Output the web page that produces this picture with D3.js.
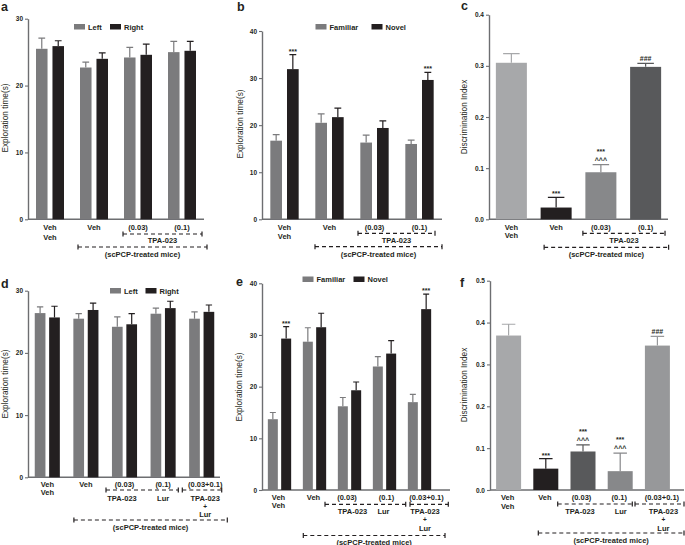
<!DOCTYPE html>
<html>
<head>
<meta charset="utf-8">
<script src="https://cdn.jsdelivr.net/npm/d3@7"></script>
<style>
  body { margin: 0; background: #fff; }
  svg { display: block; }
</style>
</head>
<body>
<div id="chart"></div>
<script>
// ---- data ----
var groupsABC = [["Veh", "Veh"], ["Veh"], ["(0.03)"], ["(0.1)"]];
var groupsDEF = [["Veh", "Veh"], ["Veh"], ["(0.03)"], ["(0.1)"], ["(0.03+0.1)"]];

var aLeft = [25.5, 22.7, 24.2, 25.0];
var aLeftErr = [1.6, 0.8, 1.5, 1.6];
var aRight = [25.9, 24.0, 24.6, 25.2];
var aRightErr = [0.8, 0.9, 1.6, 1.4];

var bFamiliar = [16.7, 20.5, 16.3, 16.0];
var bFamiliarErr = [1.3, 1.9, 1.6, 0.8];
var bNovel = [31.9, 21.7, 19.4, 29.6];
var bNovelErr = [3.1, 1.9, 1.5, 1.6];
var bNovelMarks = [["***"], null, null, ["***"]];

var cIndex = [0.306, 0.023, 0.092, 0.298];
var cIndexErr = [0.018, 0.020, 0.015, 0.007];
var cMarks = [null, ["***"], ["***", "^^^"], ["###"]];

var dLeft = [26.4, 25.5, 24.2, 26.3, 25.5];
var dLeftErr = [1.0, 0.8, 1.6, 0.9, 1.1];
var dRight = [25.7, 26.9, 24.6, 27.2, 26.6];
var dRightErr = [1.8, 1.1, 1.7, 1.1, 1.1];

var eFamiliar = [13.7, 28.7, 16.2, 23.9, 17.0];
var eFamiliarErr = [1.3, 2.7, 1.7, 1.9, 1.5];
var eNovel = [29.3, 31.5, 19.3, 26.4, 35.0];
var eNovelErr = [2.3, 2.7, 1.6, 2.5, 2.9];
var eNovelMarks = [["***"], null, null, null, ["***"]];

var fIndex = [0.369, 0.051, 0.092, 0.045, 0.345];
var fIndexErr = [0.027, 0.024, 0.016, 0.043, 0.022];
var fMarks = [null, ["***"], ["***", "^^^"], ["***", "^^^"], ["###"]];

var ticks30 = [0, 10, 20, 30];
var ticks40 = [0, 10, 20, 30, 40];
var ticksC = [0, 0.1, 0.2, 0.3, 0.4];
var ticksF = [0, 0.1, 0.2, 0.3, 0.4, 0.5];

var comboLabel = ["TPA-023", "+", "Lur"];

// ---- styles ----
var FONT = "'Liberation Sans', Arial, sans-serif";
var INK = "#231f20";
var AXIS = "#6d6e71";
var GREY = "#7b7b7d";
var BLACK = "#231f20";
var cColors = ["#a7a8aa", "#231f20", "#87888a", "#58595b"];
var fColors = ["#a7a8aa", "#231f20", "#58595b", "#87888a", "#97989a"];

var svg = d3.select("#chart").append("svg")
    .attr("width", 685).attr("height", 545)
    .attr("font-family", FONT);
svg.append("rect").attr("width", 685).attr("height", 545).attr("fill", "#fff");

function txt(g, x, y, s, size, weight, anchor) {
    return g.append("text").attr("x", x).attr("y", y)
        .attr("font-size", size).attr("font-weight", weight || "bold")
        .attr("text-anchor", anchor || "middle").attr("fill", INK).text(s);
}

function bracket(g, x1, x2, y) {
    g.append("line").attr("x1", x1).attr("x2", x2).attr("y1", y).attr("y2", y)
        .attr("stroke", INK).attr("stroke-width", 1.2).attr("stroke-dasharray", "4,3");
    [x1, x2].forEach(function(xx) {
        g.append("line").attr("x1", xx).attr("x2", xx).attr("y1", y - 2.5).attr("y2", y + 2.5)
            .attr("stroke", INK).attr("stroke-width", 1.2);
    });
}

function drawPanel(p) {
    var g = svg.append("g");
    var x = d3.scaleBand().domain(d3.range(p.groups.length)).range(p.xRange)
        .paddingInner(p.pad).paddingOuter(p.pad / 2);
    var y = d3.scaleLinear().domain([0, p.yMax]).range(p.yRange);
    var sub = d3.scaleBand().domain(d3.range(p.series.length)).range([0, x.bandwidth()])
        .paddingInner(p.subPad || 0);
    var center = function(i) { return x(i) + x.bandwidth() / 2; };

    // panel letter
    txt(g, p.letter[1], p.letter[2], p.letter[0], p.letter[3], "bold", "start");

    // y axis
    var ax = g.append("g").attr("transform", "translate(" + p.axisX + ",0)")
        .call(d3.axisLeft(y).tickValues(p.ticks).tickFormat(p.fmt)
            .tickSize(3).tickSizeOuter(0).tickPadding(2));
    ax.attr("font-family", FONT);
    ax.select(".domain").attr("stroke", AXIS).attr("stroke-width", 1.4);
    ax.selectAll(".tick line").attr("stroke", AXIS).attr("stroke-width", 1.1);
    ax.selectAll(".tick text").attr("font-size", 6.5).attr("font-weight", "bold").attr("fill", INK);

    // y title
    g.append("text")
        .attr("transform", "translate(" + p.yTitle[1] + "," + p.yTitle[2] + ") rotate(-90)")
        .attr("text-anchor", "middle").attr("font-size", 8.3).attr("fill", INK)
        .text(p.yTitle[0]);

    // x baseline
    g.append("line").attr("x1", p.axisX).attr("x2", p.axisEnd)
        .attr("y1", y(0)).attr("y2", y(0)).attr("stroke", AXIS).attr("stroke-width", 1.4);

    // bars, error bars, significance marks
    p.series.forEach(function(s, si) {
        var rows = s.values.map(function(v, i) {
            return { i: i, v: v, e: s.errs[i], c: s.colors ? s.colors[i] : s.color,
                     m: s.marks ? s.marks[i] : null };
        });
        var bw = sub.bandwidth();
        var cap = bw * 0.5 + 1;
        var bx = function(d) { return x(d.i) + sub(si); };
        g.selectAll(null).data(rows).enter().append("rect")
            .attr("x", bx).attr("width", bw)
            .attr("y", function(d) { return y(d.v); })
            .attr("height", function(d) { return y(0) - y(d.v); })
            .attr("fill", function(d) { return d.c; });
        g.selectAll(null).data(rows).enter().append("path")
            .attr("d", function(d) {
                var cx = bx(d) + bw / 2, t = y(d.v + d.e);
                return "M" + cx + "," + y(d.v) + "V" + t + "M" + (cx - cap / 2) + "," + t + "H" + (cx + cap / 2);
            })
            .attr("fill", "none").attr("stroke", function(d) { return d.c; }).attr("stroke-width", 1.2);
        rows.filter(function(d) { return d.m; }).forEach(function(d) {
            var cx = bx(d) + bw / 2, t = y(d.v + d.e);
            var n = d.m.length;
            d.m.forEach(function(m, k) {
                var base = t - 2 - (n - 1 - k) * 10 + (m === "***" ? 1 : 0);
                txt(g, cx, base, m, 7, "bold");
            });
        });
    });

    // legend
    if (p.legend) {
        p.legend.items.forEach(function(it, k) {
            var lx = p.legend.x[k];
            g.append("rect").attr("x", lx).attr("y", p.legend.y).attr("width", 11).attr("height", 5.5)
                .attr("fill", it[1]);
            txt(g, lx + 14, p.legend.y + 5.6, it[0], 7.5, "bold", "start");
        });
    }

    // group labels
    p.groups.forEach(function(lines, i) {
        lines.forEach(function(s, k) {
            txt(g, center(i) + (p.labelDx[i] || 0), p.labelY[k], s, 7.5, "bold");
        });
    });

    // treatment brackets and their labels
    p.brackets.forEach(function(b) {
        var x1 = center(b.from) - b.dl, x2 = center(b.to) + b.dr;
        bracket(g, x1, x2, b.y);
        if (b.label) {
            b.label.forEach(function(s, k) {
                txt(g, (x1 + x2) / 2, b.ly + k * 8, s, 7.5, "bold");
            });
        }
    });
    (p.under || []).forEach(function(u) {
        u.lines.forEach(function(s, k) {
            var small = s === "+";
            txt(g, center(u.group) + u.dx, u.y[k], s, small ? 6.5 : 7.5, "bold");
        });
    });
}

var pct = d3.format("d");
var dec = d3.format(".1f");

// a
drawPanel({
    letter: ["a", 1, 10.5, 12.5],
    groups: groupsABC, xRange: [28, 204], pad: 0.364, subPad: 0.3,
    axisX: 28, axisEnd: 204, yRange: [219.3, 18.7], yMax: 30, ticks: ticks30, fmt: pct,
    yTitle: ["Exploration time(s)", 8, 118],
    series: [
        { values: aLeft, errs: aLeftErr, color: GREY },
        { values: aRight, errs: aRightErr, color: BLACK }
    ],
    legend: { x: [74, 110], y: 24, items: [["Left", GREY], ["Right", BLACK]] },
    labelY: [230, 239.5], labelDx: [],
    brackets: [
        { from: 2, to: 3, y: 234, dl: 15, dr: 20, label: ["TPA-023"], ly: 243 },
        { from: 1, to: 3, y: 247, dl: 16, dr: 25, label: ["(scPCP-treated mice)"], ly: 257 }
    ]
});

// b
drawPanel({
    letter: ["b", 237, 10.7, 12.5],
    groups: groupsABC, xRange: [262, 442], pad: 0.37, subPad: 0.3,
    axisX: 262, axisEnd: 442, yRange: [219.3, 31], yMax: 40, ticks: ticks40, fmt: pct,
    yTitle: ["Exploration time(s)", 243, 124],
    series: [
        { values: bFamiliar, errs: bFamiliarErr, color: GREY },
        { values: bNovel, errs: bNovelErr, color: BLACK, marks: bNovelMarks }
    ],
    legend: { x: [315.5, 371.5], y: 24, items: [["Familiar", GREY], ["Novel", BLACK]] },
    labelY: [230, 238.7], labelDx: [],
    brackets: [
        { from: 2, to: 3, y: 233.3, dl: 16.5, dr: 15.5, label: ["TPA-023"], ly: 243 },
        { from: 1, to: 3, y: 246.7, dl: 14.5, dr: 22.5, label: ["(scPCP-treated mice)"], ly: 256.5 }
    ]
});

// c
drawPanel({
    letter: ["c", 461, 10, 12.5],
    groups: groupsABC, xRange: [489, 668], pad: 0.307,
    axisX: 489, axisEnd: 668, yRange: [219.3, 14.7], yMax: 0.4, ticks: ticksC, fmt: dec,
    yTitle: ["Discrimination Index", 467, 117],
    series: [
        { values: cIndex, errs: cIndexErr, colors: cColors, marks: cMarks }
    ],
    labelY: [229.5, 238.2], labelDx: [],
    brackets: [
        { from: 2, to: 3, y: 233.3, dl: 18, dr: 19.4, label: ["TPA-023"], ly: 242.5 },
        { from: 1, to: 3, y: 247.3, dl: 12, dr: 23, label: ["(scPCP-treated mice)"], ly: 256.5 }
    ]
});

// d
drawPanel({
    letter: ["d", 1, 288, 12.5],
    groups: groupsDEF, xRange: [28, 221], pad: 0.35, subPad: 0.257,
    axisX: 28, axisEnd: 220, yRange: [477.3, 290.7], yMax: 30, ticks: ticks30, fmt: pct,
    yTitle: ["Exploration time(s)", 8, 384],
    series: [
        { values: dLeft, errs: dLeftErr, color: GREY },
        { values: dRight, errs: dRightErr, color: BLACK }
    ],
    legend: { x: [110, 145.5], y: 288, items: [["Left", GREY], ["Right", BLACK]] },
    labelY: [486.5, 495.2], labelDx: [0, 0, 0, 0, 3.5],
    brackets: [
        { from: 2, to: 3, y: 490, dl: 18.5, dr: 15.2 },
        { from: 4, to: 4, y: 490, dl: 19.4, dr: 20 },
        { from: 1, to: 4, y: 520, dl: 12, dr: 25.6, label: ["(scPCP-treated mice)"], ly: 530 }
    ],
    under: [
        { group: 2, dx: -2.5, y: [500.5], lines: ["TPA-023"] },
        { group: 3, dx: 0, y: [500.5], lines: ["Lur"] },
        { group: 4, dx: 3.5, y: [500.5, 508.5, 517], lines: comboLabel }
    ]
});

// e
drawPanel({
    letter: ["e", 236, 285.5, 12.5],
    groups: groupsDEF, xRange: [262, 437], pad: 0.334, subPad: 0.25,
    axisX: 262, axisEnd: 450, yRange: [490, 283.3], yMax: 40, ticks: ticks40, fmt: pct,
    yTitle: ["Exploration time(s)", 242, 387],
    series: [
        { values: eFamiliar, errs: eFamiliarErr, color: GREY },
        { values: eNovel, errs: eNovelErr, color: BLACK, marks: eNovelMarks }
    ],
    legend: { x: [302.5, 353.5], y: 276.5, items: [["Familiar", GREY], ["Novel", BLACK]] },
    labelY: [499.5, 508.2], labelDx: [-1, -1, -2.5, 2, 7],
    brackets: [
        { from: 2, to: 3, y: 504.3, dl: 24.5, dr: 21.2 },
        { from: 4, to: 4, y: 504.3, dl: 9.5, dr: 28.8 },
        { from: 1, to: 4, y: 535.5, dl: 11.2, dr: 25.5, label: ["(scPCP-treated mice)"], ly: 544.5 }
    ],
    under: [
        { group: 2, dx: 3, y: [514], lines: ["TPA-023"] },
        { group: 3, dx: -1, y: [514], lines: ["Lur"] },
        { group: 4, dx: 5.5, y: [514, 522, 531], lines: comboLabel }
    ]
});

// f
drawPanel({
    letter: ["f", 460, 286.5, 12.5],
    groups: groupsDEF, xRange: [490, 676], pad: 0.328,
    axisX: 490, axisEnd: 684, yRange: [490, 280.7], yMax: 0.5, ticks: ticksF, fmt: dec,
    yTitle: ["Discrimination Index", 467, 385],
    series: [
        { values: fIndex, errs: fIndexErr, colors: fColors, marks: fMarks }
    ],
    labelY: [500, 508.7], labelDx: [-1, -1, -1.5, -1, 4.5],
    brackets: [
        { from: 2, to: 3, y: 504, dl: 25.3, dr: 12.1 },
        { from: 4, to: 4, y: 504, dl: 22.4, dr: 26.6 },
        { from: 1, to: 4, y: 533, dl: 7.5, dr: 26.6, label: ["(scPCP-treated mice)"], ly: 543 }
    ],
    under: [
        { group: 2, dx: -3, y: [514], lines: ["TPA-023"] },
        { group: 3, dx: 0.5, y: [514], lines: ["Lur"] },
        { group: 4, dx: 6, y: [514, 522, 530.5], lines: comboLabel }
    ]
});
</script>
</body>
</html>
